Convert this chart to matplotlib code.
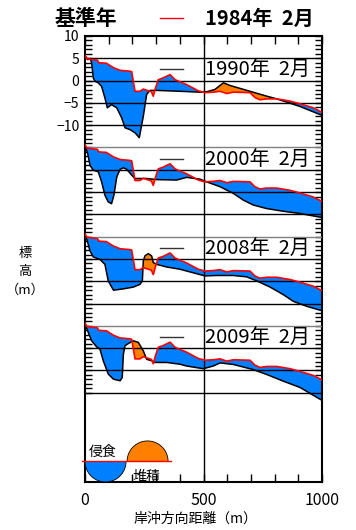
import matplotlib.pyplot as plt
import numpy as np

plt.rcParams['font.family'] = ['Noto Sans CJK JP', 'DejaVu Sans']

# 1984 baseline profile (distance m, elevation m)
base_x = [0, 8, 30, 52, 58, 90, 120, 148, 190, 197, 211, 232, 246, 262, 280, 288, 296, 309, 330, 359,
          380, 429, 478, 506, 541, 570, 598, 626, 696, 717, 738, 767, 809, 865, 907, 963, 1000]
base_z = [5.6, 4.9, 4.7, 4.6, 4.0, 3.9, 2.9, 2.3, 2.1, 2.0, -2.4, -2.4, -1.9, -2.2, -2.5, -3.5, -1.9, 0.2, 0.6, 1.35,
          0.2, -0.9, -2.3, -2.7, -2.6, -2.4, -2.9, -2.6, -2.7, -3.8, -4.3, -4.1, -4.1, -4.6, -5.2, -6.1, -7.1]

x1990 = [0, 12, 22, 28, 35, 42, 56, 70, 84, 94, 112, 134, 155, 169, 190, 211, 229, 246, 260, 274, 302,
         401, 485, 513, 548, 584, 612, 696, 767, 809, 907, 1000]
z1990 = [5.6, 4.7, 4.9, 4.0, 0.6, -0.15, -0.5, -1.3, -3.9, -6.1, -5.4, -6.1, -8.4, -10.6, -11.0, -11.7, -12.8, -8.0, -3.1, -2.2, -2.2,
         -2.4, -2.6, -2.5, -2.0, -0.5, -1.1, -2.4, -3.5, -4.1, -5.8, -7.8]

x2000 = [0, 12, 21, 35, 56, 70, 84, 98, 112, 122, 134, 148, 162, 176, 197, 211, 260, 302, 387, 429,
         485, 513, 570, 626, 668, 710, 767, 837, 907, 1000]
z2000 = [5.5, 3.5, 1.0, -0.1, -0.45, -2.7, -5.7, -7.2, -7.6, -5.7, -1.6, 0.1, 0.45, 0.1, -1.2, -1.95, -1.95, -2.2, -2.3, -1.7,
         -2.1, -2.7, -3.8, -5.3, -6.8, -7.9, -8.7, -9.3, -9.8, -10.7]

x2008 = [0, 10, 21, 35, 63, 84, 98, 120, 162, 204, 232, 242, 246, 253, 267, 281, 288, 302, 345, 401, 457,
         506, 555, 626, 682, 724, 781, 837, 879, 935, 1000]
z2008 = [5.5, 4.0, 1.8, 0.45, -0.1, -1.2, -4.9, -7.0, -6.7, -6.3, -5.7, -4.9, -0.45, 0.7, 1.2, 0.7, -0.8, -1.2, -1.8, -2.3, -3.1,
         -3.8, -3.7, -3.7, -4.0, -4.9, -6.3, -8.0, -9.5, -10.6, -11.6]

x2009 = [0, 14, 28, 49, 63, 77, 98, 120, 148, 157, 162, 169, 183, 204, 225, 246, 260, 281, 295, 345, 401,
         429, 499, 541, 570, 626, 710, 767, 837, 907, 1000]
z2009 = [5.5, 3.5, 1.65, 0.3, -0.2, -2.8, -5.8, -6.95, -7.3, -6.6, -1.3, 0.55, 1.05, 1.65, 1.3, -0.6, -2.5, -2.8, -3.2, -3.2, -3.6,
         -4.0, -4.6, -4.0, -3.3, -3.65, -4.8, -5.9, -7.4, -8.8, -11.7]

profiles = [(x1990, z1990), (x2000, z2000), (x2008, z2008), (x2009, z2009)]
labels = ["1990年  2月", "2000年  2月", "2008年  2月", "2009年  2月"]
offsets = [0, -20, -40, -60]

blue = "#0080ff"
orange = "#ff8000"

fig = plt.figure(figsize=(3.56, 5.30), dpi=100)
ax = fig.add_axes([0.2388, 0.0906, 0.6657, 0.8415])
ax.set_xlim(0, 1000)
ax.set_ylim(-90, 10)

for (px, pz), lab, off in zip(profiles, labels, offsets):
    xx = np.union1d(base_x, px)
    zb = np.interp(xx, base_x, base_z) + off
    zy = np.interp(xx, px, pz) + off
    ax.fill_between(xx, zb, zy, where=zy <= zb, color=blue, lw=0, interpolate=True, zorder=2)
    ax.fill_between(xx, zb, zy, where=zy >= zb, color=orange, lw=0, interpolate=True, zorder=2)
    ax.plot(px, np.array(pz) + off, color="black", lw=1.1, zorder=4)
    ax.plot(base_x, np.array(base_z) + off, color="red", lw=1.2, zorder=5)
    # key line and year label
    ax.plot([316, 414], [off + 2.5, off + 2.5], color="#333333", lw=1, zorder=6)
    ax.text(506, off + 2.2, lab, fontsize=14.5, va="center", ha="left", zorder=6)

# reference levels every 5 m
for lev in range(5, -71, -5):
    c = "#808080" if lev in (-15, -35, -55) else "black"
    ax.axhline(lev, color=c, lw=1, zorder=3)
ax.axvline(500, color="black", lw=1, zorder=3)

# erosion / deposition key
rx, ry = 86.5, 4.6
t = np.linspace(0, np.pi, 60)
ax.fill(86.5 + rx * np.cos(t), -85.4 - ry * np.sin(t), facecolor=blue, edgecolor="black", lw=0.6, zorder=6)
ax.fill(264 + rx * np.cos(t), -85.4 + ry * np.sin(t), facecolor=orange, edgecolor="black", lw=0.6, zorder=6)
ax.plot([-13, 363], [-85.4, -85.4], color="red", lw=1, clip_on=False, zorder=7)
ax.text(15, -83.2, "侵食", fontsize=10, ha="left", va="center", zorder=7)
ax.text(200, -88.9, "堆積", fontsize=10, ha="left", va="center", zorder=7)

# legend header
ax.plot([316, 414], [14, 14], color="red", lw=1, clip_on=False)
fig.text(0.1545, 0.966, "基準年", fontsize=15, fontweight="bold", ha="left", va="center")
fig.text(0.576, 0.966, "1984年  2月", fontsize=14.5, fontweight="bold", ha="left", va="center")

ax.set_xticks(range(0, 1001, 100))
ax.set_xticklabels(["0", "", "", "", "", "500", "", "", "", "", "1000"])
ax.tick_params(axis="x", direction="in", top=True, length=6, width=1, labelsize=11.5, pad=7)
ax.set_yticks([10, 5, 0, -5, -10])
ax.set_yticklabels(["10", "5", "0", "\u22125", "\u221210"])
ax.set_yticks(np.arange(-70, 11, 1), minor=True)
ax.tick_params(axis="y", which="both", direction="in", right=True, length=5, width=1, labelsize=10, pad=4)
for s in ax.spines.values():
    s.set_linewidth(1.5)

fig.text(25 / 356, 1 - 253 / 530, "標", fontsize=9.5, ha="center", va="center")
fig.text(25 / 356, 1 - 271 / 530, "高", fontsize=9.5, ha="center", va="center")
fig.text(25 / 356, 1 - 290 / 530, "（m）", fontsize=9.5, ha="center", va="center")
fig.text(195 / 356, 1 - 519 / 530, "岸沖方向距離（m）", fontsize=10, ha="center", va="center")

fig.savefig("out.png", dpi=100)
